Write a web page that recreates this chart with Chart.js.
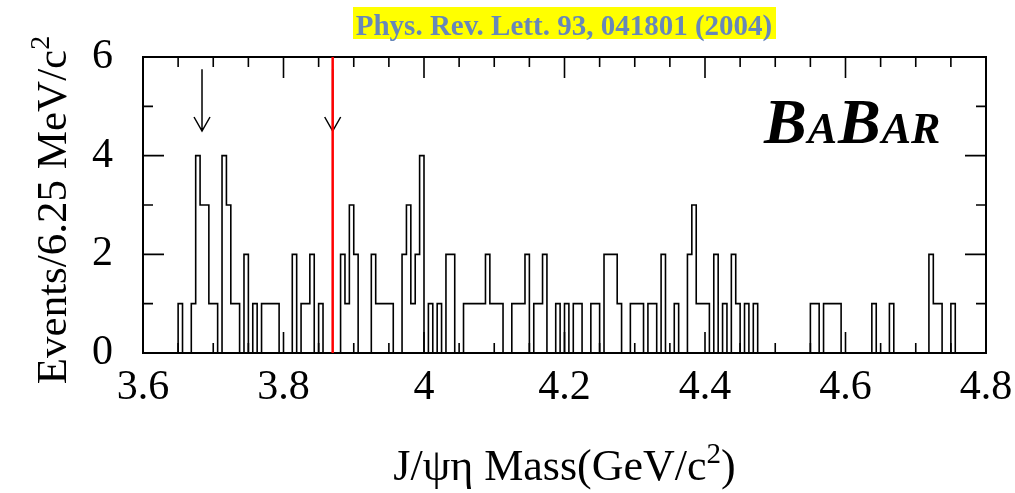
<!DOCTYPE html>
<html><head><meta charset="utf-8">
<script src="https://cdn.jsdelivr.net/npm/chart.js@4.4.1/dist/chart.umd.min.js"></script>
<style>html,body{margin:0;padding:0;background:#fff;}</style>
</head><body>
<canvas id="c" width="1015" height="493" style="display:block;width:1015px;height:493px"></canvas>
<script>
// ---- data ----
const binLow = 3.6;          // GeV/c^2
const binHigh = 4.8;
const binWidth = 0.00625;    // 6.25 MeV
const counts = [
  0,0,0,0,0,0,0,0,1,0,0,1,4,3,3,1,
  1,0,4,3,1,1,0,2,0,1,0,1,1,1,1,0,
  0,0,2,0,1,1,2,0,1,0,0,0,0,2,1,3,
  2,0,0,0,2,1,1,1,1,0,0,2,3,1,2,4,
  0,1,0,1,0,2,2,0,0,1,1,1,1,1,2,1,
  1,1,0,0,1,1,1,2,0,1,1,2,0,0,1,0,
  1,0,1,1,0,0,1,1,0,2,2,2,1,0,0,1,
  1,1,0,1,1,0,2,0,0,1,0,0,2,3,1,1,
  1,0,2,0,1,0,2,1,0,1,0,1,0,0,0,0,
  0,0,0,0,0,0,0,0,1,1,0,1,1,1,1,0,
  0,0,0,0,0,0,1,0,0,0,1,0,0,0,0,0,
  0,0,0,2,1,1,0,0,1,0,0,0,0,0,0,0
];
const xTickValues = [3.6, 3.8, 4.0, 4.2, 4.4, 4.6, 4.8];
const xTickLabels = ['3.6', '3.8', '4', '4.2', '4.4', '4.6', '4.8'];
const yTickValues = [0, 2, 4, 6];
const yTickLabels = ['0', '2', '4', '6'];
const arrowMasses = [3.684, 3.870];
const arrowFrom = 5.75, arrowTo = 4.5;
const markerMass = 3.870;
const yTitleParts = ['Events/6.25 MeV/c', '2', ''];
const xTitleParts = ['J/\u03C8\u03B7 Mass(GeV/c', '2', ')'];
const refText = 'Phys. Rev. Lett. 93, 041801 (2004)';
const logoParts = [['B', true], ['A', false], ['B', true], ['AR', false]];

// ---- build line points (left bin edges, step) ----
const histPoints = counts.map((c, i) => ({ x: binLow + i * binWidth, y: c }));
histPoints.push({ x: binHigh, y: 0 });

const SERIF = '"Liberation Serif", "Times New Roman", serif';

function drawSupTitle(ctx, parts, cx, baseY, size) {
  const big = size + 'px ' + SERIF, small = Math.round(size * 0.65) + 'px ' + SERIF;
  ctx.font = big; const w0 = ctx.measureText(parts[0]).width;
  const w2 = ctx.measureText(parts[2]).width;
  ctx.font = small; const w1 = ctx.measureText(parts[1]).width;
  let x = cx - (w0 + w1 + w2) / 2;
  ctx.textAlign = 'left'; ctx.textBaseline = 'alphabetic';
  ctx.font = big; ctx.fillText(parts[0], x, baseY); x += w0;
  ctx.font = small; ctx.fillText(parts[1], x, baseY - 17); x += w1;
  ctx.font = big; ctx.fillText(parts[2], x, baseY);
}

const decor = {
  id: 'decor',
  afterDraw(chart) {
    const ctx = chart.ctx;
    const xs = chart.scales.x, ys = chart.scales.y;
    const a = chart.chartArea;
    ctx.save();
    // frame
    ctx.strokeStyle = '#000';
    ctx.lineWidth = 2;
    ctx.strokeRect(a.left, a.top, a.right - a.left, a.bottom - a.top);
    // x ticks (inward, top and bottom)
    ctx.lineWidth = 1.6;
    for (let k = 0; k <= 24; k++) {
      const v = binLow + k * 0.05;
      const major = (k % 4 === 0);
      const len = major ? 21 : 10;
      const px = xs.getPixelForValue(v);
      ctx.beginPath();
      ctx.moveTo(px, a.bottom); ctx.lineTo(px, a.bottom - len);
      ctx.moveTo(px, a.top); ctx.lineTo(px, a.top + len);
      ctx.stroke();
    }
    // y ticks (inward, left and right)
    for (let v = 0; v <= 6; v++) {
      const major = (v % 2 === 0);
      const len = major ? 21 : 10;
      const py = ys.getPixelForValue(v);
      ctx.beginPath();
      ctx.moveTo(a.left, py); ctx.lineTo(a.left + len, py);
      ctx.moveTo(a.right, py); ctx.lineTo(a.right - len, py);
      ctx.stroke();
    }
    // arrows
    ctx.lineWidth = 1.5;
    arrowMasses.forEach(m => {
      const px = xs.getPixelForValue(m);
      const y0 = ys.getPixelForValue(arrowFrom), y1 = ys.getPixelForValue(arrowTo);
      ctx.beginPath();
      ctx.moveTo(px, y0); ctx.lineTo(px, y1);
      ctx.moveTo(px - 8, y1 - 14); ctx.lineTo(px, y1); ctx.lineTo(px + 8, y1 - 14);
      ctx.stroke();
    });
    // red marker line
    const mx = xs.getPixelForValue(markerMass);
    ctx.strokeStyle = '#ff0000';
    ctx.lineWidth = 2.5;
    ctx.beginPath();
    ctx.moveTo(mx, a.top); ctx.lineTo(mx, a.bottom);
    ctx.stroke();
    // axis titles
    ctx.fillStyle = '#000';
    drawSupTitle(ctx, xTitleParts, (a.left + a.right) / 2, 480, 44);
    ctx.save();
    ctx.translate(66, 210);
    ctx.rotate(-Math.PI / 2);
    drawSupTitle(ctx, yTitleParts, 0, 0, 43);
    ctx.restore();
    // BaBar logo
    ctx.fillStyle = '#000';
    ctx.textAlign = 'left';
    ctx.textBaseline = 'alphabetic';
    let lx = 764;
    logoParts.forEach(([t, big]) => {
      ctx.font = 'italic bold ' + (big ? 64 : 44) + 'px ' + SERIF;
      ctx.fillText(t, lx, 143);
      lx += ctx.measureText(t).width + 1;
    });
    // reference banner
    ctx.fillStyle = '#ffff00';
    ctx.fillRect(353, 7, 423, 32);
    ctx.font = 'bold 29px ' + SERIF;
    ctx.fillStyle = '#6787b9';
    ctx.textAlign = 'center';
    ctx.fillText(refText, 564, 35);
    ctx.restore();
  }
};

new Chart(document.getElementById('c'), {
  type: 'line',
  data: {
    datasets: [{
      data: histPoints,
      stepped: 'before',
      borderColor: '#000',
      borderWidth: 1.6,
      pointRadius: 0,
      fill: false,
      tension: 0
    }]
  },
  options: {
    responsive: false,
    animation: false,
    events: [],
    layout: { padding: { top: 57, right: 29, left: 0, bottom: 0 } },
    plugins: { legend: { display: false }, tooltip: { enabled: false } },
    scales: {
      x: {
        type: 'linear', position: 'bottom', min: binLow, max: binHigh,
        grid: { display: false, drawTicks: false }, border: { display: false },
        afterBuildTicks: s => { s.ticks = xTickValues.map(v => ({ value: v })); },
        afterFit: s => { s.height = 140; s.paddingLeft = 0; s.paddingRight = 0; },
        ticks: {
          autoSkip: false, maxRotation: 0, padding: 10, color: '#000',
          font: { family: SERIF, size: 42 },
          callback: (v, i) => xTickLabels[i]
        },
        title: { display: false }
      },
      y: {
        type: 'linear', min: 0, max: 6,
        grid: { display: false, drawTicks: false }, border: { display: false },
        afterBuildTicks: s => { s.ticks = yTickValues.map(v => ({ value: v })); },
        afterFit: s => { s.width = 143; s.paddingTop = 0; s.paddingBottom = 0; },
        ticks: {
          autoSkip: false, padding: 30, color: '#000',
          font: { family: SERIF, size: 42 },
          callback: (v, i) => yTickLabels[i]
        },
        title: { display: false }
      }
    }
  },
  plugins: [decor]
});
</script>
</body></html>
